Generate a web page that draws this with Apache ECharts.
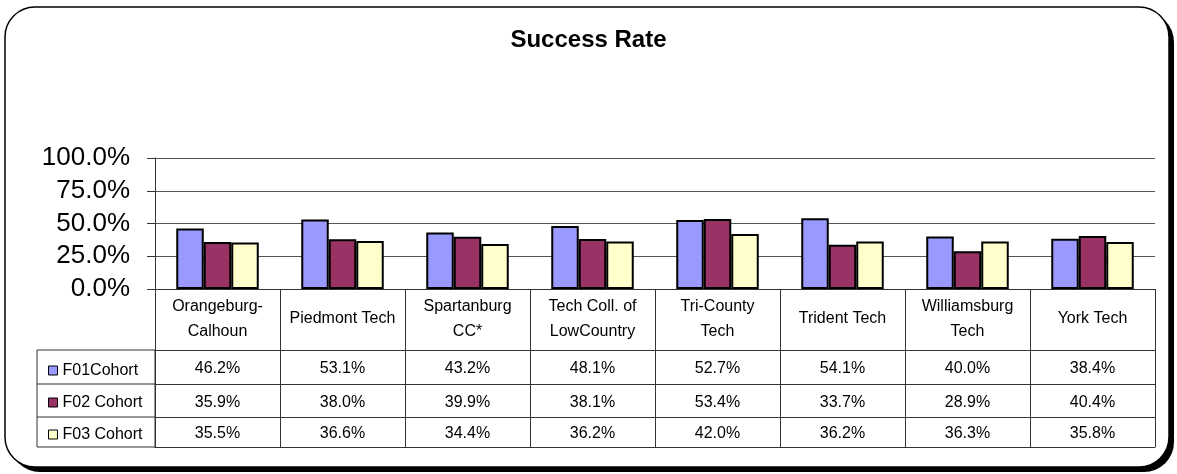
<!DOCTYPE html>
<html>
<head>
<meta charset="utf-8">
<script src="https://cdn.jsdelivr.net/npm/echarts@6/dist/echarts.min.js"></script>
<style>
  html, body { margin: 0; padding: 0; background: #fff; }
  #chart { width: 1177px; height: 474px; }
</style>
</head>
<body>
<div id="chart"></div>
<script>
const schools = [
  "Orangeburg-\nCalhoun",
  "Piedmont Tech",
  "Spartanburg\nCC*",
  "Tech Coll. of\nLowCountry",
  "Tri-County\nTech",
  "Trident Tech",
  "Williamsburg\nTech",
  "York Tech",
];
const seriesNames = ["F01Cohort", "F02 Cohort", "F03 Cohort"];
const f01 = [46.2, 53.1, 43.2, 48.1, 52.7, 54.1, 40.0, 38.4];
const f02 = [35.9, 38.0, 39.9, 38.1, 53.4, 33.7, 28.9, 40.4];
const f03 = [35.5, 36.6, 34.4, 36.2, 42.0, 36.2, 36.3, 35.8];
const colors = ["#9999ff", "#993366", "#ffffcc"];

const font = "'Liberation Sans', Arial, sans-serif";
const lineColor = "#333";
const pct = (v) => v.toFixed(1) + "%";

// one table row = one extra x axis under the grid
const rowAxis = (values, offset, height) => ({
  type: "category",
  data: schools,
  position: "bottom",
  offset: offset,
  axisLine: { show: true, onZero: false, lineStyle: { color: lineColor } },
  axisTick: { show: true, length: height, lineStyle: { color: lineColor } },
  axisLabel: {
    interval: 0,
    margin: height / 2 + 2,
    verticalAlign: "middle",
    color: "#000",
    fontSize: 16,
    fontFamily: font,
    formatter: (v, i) => pct(values[i]),
  },
  splitLine: { show: false },
});

const chart = echarts.init(document.getElementById("chart"));
chart.setOption({
  animation: false,
  title: {
    text: "Success Rate",
    left: "center",
    top: 23,
    textStyle: { fontSize: 24, fontWeight: "bold", color: "#000", fontFamily: font },
  },
  legend: {
    orient: "vertical",
    left: 43,
    top: 357,
    itemWidth: 9,
    itemHeight: 9,
    itemGap: 15,
    icon: "rect",
    itemStyle: { borderColor: "#000", borderWidth: 1 },
    textStyle: { fontSize: 16, lineHeight: 17, color: "#000", fontFamily: font },
    data: seriesNames,
  },
  grid: { left: 155, right: 22, top: 158, bottom: 185 },
  xAxis: [
    {
      type: "category",
      data: schools,
      position: "bottom",
      axisLine: { show: true, onZero: false, lineStyle: { color: lineColor } },
      axisTick: { show: true, length: 61, lineStyle: { color: lineColor } },
      axisLabel: {
        interval: 0,
        margin: 30,
        verticalAlign: "middle",
        lineHeight: 25,
        color: "#000",
        fontSize: 16,
        fontFamily: font,
      },
    },
    rowAxis(f01, 61, 34),
    rowAxis(f02, 95, 33),
    rowAxis(f03, 128, 30),
    {
      type: "category",
      data: schools,
      position: "bottom",
      offset: 158,
      axisLine: { show: true, onZero: false, lineStyle: { color: lineColor } },
      axisTick: { show: false },
      axisLabel: { show: false },
    },
  ],
  yAxis: {
    type: "value",
    min: 0,
    max: 100,
    interval: 25,
    axisLine: { show: true, lineStyle: { color: lineColor } },
    axisTick: { show: true, length: 8, lineStyle: { color: lineColor } },
    axisLabel: {
      margin: 25,
      color: "#000",
      fontSize: 26,
      fontFamily: font,
      formatter: (v) => pct(v),
    },
    splitLine: { lineStyle: { color: "#555" } },
  },
  series: [f01, f02, f03].map((d, i) => ({
    name: seriesNames[i],
    type: "bar",
    data: d,
    barGap: "0%",
    barCategoryGap: "34%",
    itemStyle: { color: colors[i], borderColor: "#000", borderWidth: 2 },
  })),
  graphic: [
    // drop shadow of the frame
    {
      type: "rect",
      z: -11,
      shape: { x: 10, y: 12, width: 1164, height: 460, r: 30 },
      style: { fill: "#000" },
    },
    {
      type: "rect",
      z: -10,
      shape: { x: 5, y: 7, width: 1164, height: 460, r: 30 },
      style: { fill: "#fff", stroke: "#000", lineWidth: 1.5 },
    },
    // legend column of the data table
    {
      type: "rect",
      shape: { x: 37, y: 350, width: 118, height: 97 },
      style: { fill: "none", stroke: lineColor, lineWidth: 1 },
    },
    {
      type: "line",
      shape: { x1: 37, y1: 384, x2: 155, y2: 384 },
      style: { stroke: lineColor, lineWidth: 1 },
    },
    {
      type: "line",
      shape: { x1: 37, y1: 417, x2: 155, y2: 417 },
      style: { stroke: lineColor, lineWidth: 1 },
    },
  ],
});
</script>
</body>
</html>
